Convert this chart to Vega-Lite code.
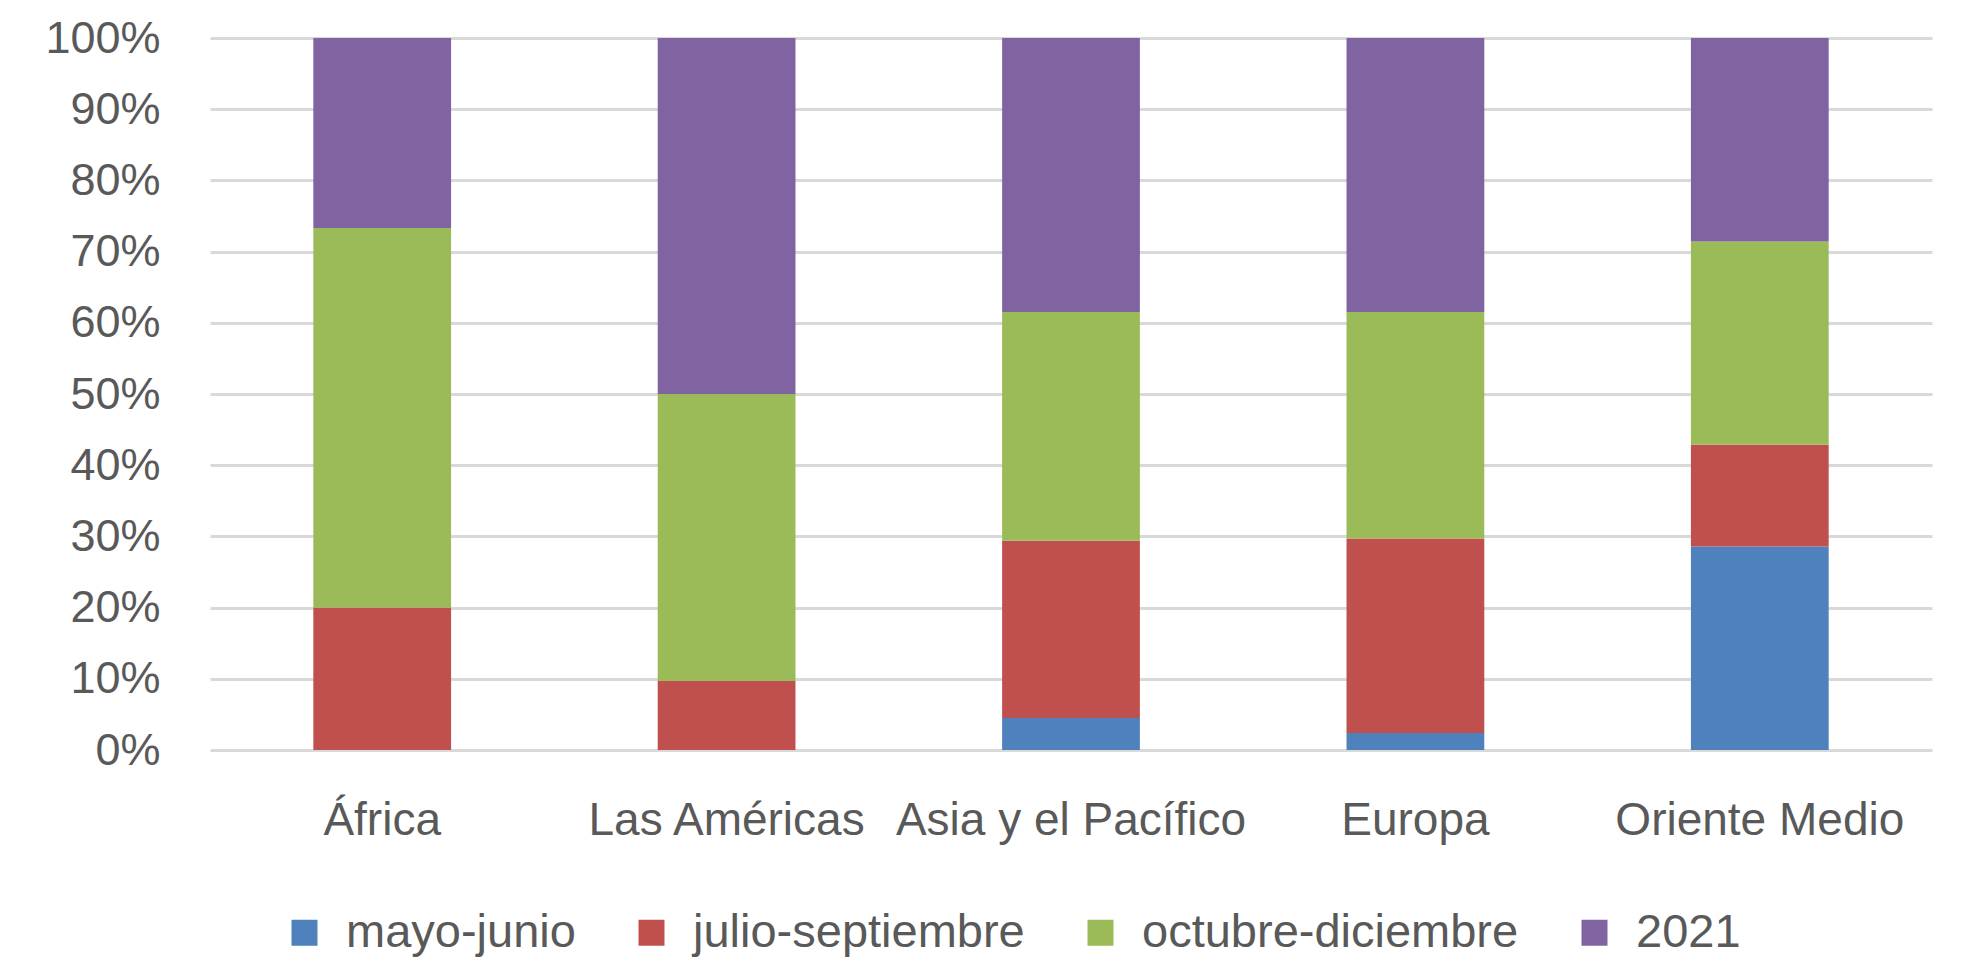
{
  "$schema": "https://vega.github.io/schema/vega-lite/v6.json",
  "autosize": "none",
  "width": 1722,
  "height": 712,
  "padding": {"left": 210, "top": 38, "right": 29, "bottom": 211},
  "background": "white",
  "data": {
    "values": [
      {"region": "África", "periodo": "mayo-junio", "valor": 0},
      {"region": "África", "periodo": "julio-septiembre", "valor": 20.0},
      {"region": "África", "periodo": "octubre-diciembre", "valor": 53.3},
      {"region": "África", "periodo": "2021", "valor": 26.7},
      {"region": "Las Américas", "periodo": "mayo-junio", "valor": 0},
      {"region": "Las Américas", "periodo": "julio-septiembre", "valor": 9.7},
      {"region": "Las Américas", "periodo": "octubre-diciembre", "valor": 40.3},
      {"region": "Las Américas", "periodo": "2021", "valor": 50.0},
      {"region": "Asia y el Pacífico", "periodo": "mayo-junio", "valor": 4.5},
      {"region": "Asia y el Pacífico", "periodo": "julio-septiembre", "valor": 24.9},
      {"region": "Asia y el Pacífico", "periodo": "octubre-diciembre", "valor": 32.1},
      {"region": "Asia y el Pacífico", "periodo": "2021", "valor": 38.5},
      {"region": "Europa", "periodo": "mayo-junio", "valor": 2.4},
      {"region": "Europa", "periodo": "julio-septiembre", "valor": 27.3},
      {"region": "Europa", "periodo": "octubre-diciembre", "valor": 31.8},
      {"region": "Europa", "periodo": "2021", "valor": 38.5},
      {"region": "Oriente Medio", "periodo": "mayo-junio", "valor": 28.57},
      {"region": "Oriente Medio", "periodo": "julio-septiembre", "valor": 14.29},
      {"region": "Oriente Medio", "periodo": "octubre-diciembre", "valor": 28.57},
      {"region": "Oriente Medio", "periodo": "2021", "valor": 28.57}
    ]
  },
  "transform": [
    {"calculate": "indexof(['mayo-junio','julio-septiembre','octubre-diciembre','2021'], datum.periodo)", "as": "orden"}
  ],
  "mark": {"type": "bar"},
  "encoding": {
    "x": {
      "field": "region",
      "type": "nominal",
      "sort": ["África", "Las Américas", "Asia y el Pacífico", "Europa", "Oriente Medio"],
      "scale": {"paddingInner": 0.6, "paddingOuter": 0.3},
      "axis": {
        "title": null,
        "labelAngle": 0,
        "ticks": false,
        "domain": false,
        "labelPadding": 48,
        "labelLimit": 0,
        "labelFontSize": 46,
        "labelFont": "Liberation Sans",
        "labelColor": "#595959"
      }
    },
    "y": {
      "field": "valor",
      "type": "quantitative",
      "stack": "zero",
      "scale": {"domain": [0, 100], "nice": false},
      "axis": {
        "title": null,
        "values": [0, 10, 20, 30, 40, 50, 60, 70, 80, 90, 100],
        "labelExpr": "datum.value + '%'",
        "ticks": false,
        "domain": false,
        "grid": true,
        "gridColor": "#D9D9D9",
        "gridWidth": 3,
        "labelPadding": 50,
        "labelFontSize": 45,
        "labelFont": "Liberation Sans",
        "labelColor": "#595959"
      }
    },
    "color": {
      "field": "periodo",
      "type": "nominal",
      "sort": ["mayo-junio", "julio-septiembre", "octubre-diciembre", "2021"],
      "scale": {
        "domain": ["mayo-junio", "julio-septiembre", "octubre-diciembre", "2021"],
        "range": ["#4F81BD", "#C0504D", "#9BBB59", "#8064A2"]
      },
      "legend": {
        "title": null,
        "orient": "none",
        "direction": "horizontal",
        "legendX": 71,
        "legendY": 871,
        "symbolType": "square",
        "symbolSize": 676,
        "symbolStrokeWidth": 0,
        "labelOffset": 18,
        "columnPadding": 52,
        "labelLimit": 0,
        "labelFontSize": 47,
        "labelFont": "Liberation Sans",
        "labelColor": "#595959"
      }
    },
    "order": {"field": "orden", "type": "quantitative"}
  },
  "config": {
    "view": {"stroke": null}
  }
}
